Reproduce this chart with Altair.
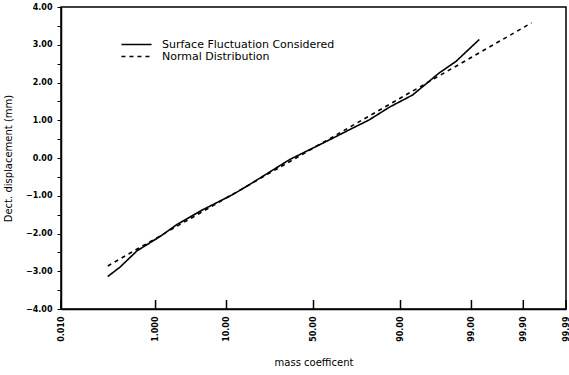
import altair as alt
import pandas as pd
from statistics import NormalDist

# Cumulative curves on normal-probability paper
surface_name = "Surface Fluctuation Considered"
normal_name = "Normal Distribution"

surface_p = [0.122, 0.219, 0.466, 1.19, 2.22, 5.16, 11.7, 17.4, 36.3, 59.3,
             70.2, 79.4, 86.9, 92.79, 96.78, 98.21, 99.27]
surface_y = [-3.14, -2.89, -2.46, -2.08, -1.76, -1.37, -0.97, -0.70, -0.04, 0.48,
             0.75, 1.01, 1.35, 1.67, 2.25, 2.56, 3.14]

normal_p = [0.122, 99.934]
normal_y = [-2.86, 3.58]

x_ticks = [0.01, 1.0, 10.0, 50.0, 90.0, 99.0, 99.9, 99.99]
y_ticks = [-4.0, -3.5, -3.0, -2.5, -2.0, -1.5, -1.0, -0.5, 0.0,
           0.5, 1.0, 1.5, 2.0, 2.5, 3.0, 3.5, 4.0]

nd = NormalDist()
x_tick_z = [nd.inv_cdf(p / 100) for p in x_ticks]
z_lo, z_hi = nd.inv_cdf(0.0001), nd.inv_cdf(0.9999)

curves = pd.DataFrame(
    {
        "series": [surface_name] * len(surface_p) + [normal_name] * len(normal_p),
        "p": surface_p + normal_p,
        "y": surface_y + normal_y,
    }
)
ticks = pd.DataFrame({"p": x_ticks})

FONT = "DejaVu Sans"

x_scale = alt.Scale(domain=[z_lo, z_hi], nice=False, zero=False)
y_scale = alt.Scale(domain=[-4, 4], nice=False, zero=False)

x_axis = alt.Axis(
    values=x_tick_z,
    labelExpr="cumulativeNormal(datum.value) * 100 < 5 ? "
    "format(cumulativeNormal(datum.value) * 100, '.3f') : "
    "format(cumulativeNormal(datum.value) * 100, '.2f')",
    labelAngle=270,
    labelAlign="right",
    labelBaseline="middle",
    labelPadding=7,
    labelOverlap=False,
    ticks=False,
    grid=False,
    title="mass coefficent",
    titlePadding=16,
)
y_axis = alt.Axis(
    values=y_ticks,
    labelExpr="datum.value % 1 == 0 ? format(datum.value, '.2f') : ''",
    labelOverlap=False,
    tickSize=4,
    labelPadding=5,
    grid=False,
    title="Dect. displacement (mm)",
    titlePadding=12,
)

# short inward ticks along the probability axis
inner_ticks = (
    alt.Chart(ticks)
    .transform_calculate(z="quantileNormal(datum.p / 100)")
    .mark_rule(color="black", strokeWidth=1.5)
    .encode(
        x=alt.X("z:Q", scale=x_scale, axis=x_axis),
        y=alt.YDatum(-4, axis=y_axis),
        y2=alt.Y2Datum(-3.76),
    )
)

lines = (
    alt.Chart(curves)
    .transform_calculate(z="quantileNormal(datum.p / 100)")
    .mark_line(color="black", strokeWidth=1.6)
    .encode(
        x=alt.X("z:Q", scale=x_scale, axis=x_axis),
        y=alt.Y("y:Q", scale=y_scale, axis=y_axis),
        strokeDash=alt.StrokeDash(
            "series:N",
            scale=alt.Scale(domain=[surface_name, normal_name], range=[[1, 0], [4, 4]]),
            legend=alt.Legend(
                title=None,
                orient="none",
                legendX=70,
                legendY=32,
                symbolType="M-4.3,0H4.3",
                symbolSize=49,
                symbolStrokeColor="black",
                symbolStrokeWidth=1.6,
                symbolFillColor="transparent",
                labelFont=FONT,
                labelFontSize=11,
                labelLimit=400,
                labelOffset=20,
                rowPadding=0,
            ),
        ),
        order=alt.Order("p:Q"),
    )
)

chart = (
    alt.layer(inner_ticks, lines)
    .properties(
        width=505,
        height=302,
        autosize=alt.AutoSizeParams(type="none"),
        padding={"left": 61, "top": 7, "right": 3, "bottom": 66},
        background="white",
    )
    .configure_view(stroke="black", strokeWidth=1.5)
    .configure_axis(
        domainColor="black",
        domainWidth=1.5,
        tickColor="black",
        labelFont=FONT,
        labelFontSize=8,
        labelFontWeight="bold",
        labelColor="black",
        titleFont=FONT,
        titleFontSize=10,
        titleFontWeight="normal",
        titleColor="black",
    )
)

chart.save("out.html", embed_options={"renderer": "svg", "actions": False})
